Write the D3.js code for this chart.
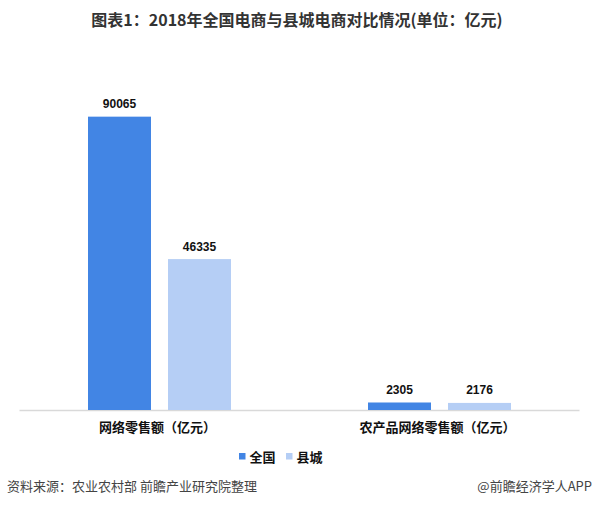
<!DOCTYPE html>
<html>
<head>
<meta charset="utf-8">
<script src="https://cdn.jsdelivr.net/npm/d3@7/dist/d3.min.js"></script>
<style>
  body { margin: 0; background: #fff; }
  svg { display: block; font-family: "Liberation Sans", "Noto Sans CJK SC", sans-serif; }
</style>
</head>
<body>
<svg id="chart" width="593" height="508"></svg>
<script>
var categories = ["网络零售额（亿元）", "农产品网络零售额（亿元）"];
var seriesNames = ["全国", "县城"];
var nationalValues = [90065, 2305];
var countyValues = [46335, 2176];

var colors = ["#4285e4", "#b5cef5"];

var svg = d3.select("#chart");
var baseY = 410;

// 外层分组
var x0 = d3.scaleBand()
    .domain(categories)
    .range([19.5, 579.5])
    .padding(0);

// 组内两根柱子
var x1 = d3.scaleBand()
    .domain(seriesNames)
    .range([-71.5, 71.5])
    .paddingInner(0.2125);

var y = d3.scaleLinear()
    .domain([0, 100000])
    .range([baseY, baseY - 325.7]);

var rows = categories.map(function(c, i) {
    return {
        cat: c,
        values: [
            { name: seriesNames[0], value: nationalValues[i] },
            { name: seriesNames[1], value: countyValues[i] }
        ]
    };
});

// title
svg.append("text")
    .attr("x", 297)
    .attr("y", 26)
    .attr("text-anchor", "middle")
    .style("font-family", "'Noto Sans CJK SC', sans-serif")
    .style("font-size", "16px")
    .style("font-weight", "bold")
    .style("fill", "#333")
    .text("图表1：2018年全国电商与县城电商对比情况(单位：亿元)");

// axis line
svg.append("line")
    .attr("x1", x0.range()[0])
    .attr("x2", x0.range()[1])
    .attr("y1", baseY + 0.5)
    .attr("y2", baseY + 0.5)
    .style("stroke", "#d9d9d9")
    .style("stroke-width", 1.5);

var groups = svg.selectAll(".group")
    .data(rows)
    .enter().append("g")
    .attr("class", "group")
    .attr("transform", function(d) {
        return "translate(" + (x0(d.cat) + x0.bandwidth() / 2) + ",0)";
    });

groups.selectAll("rect")
    .data(function(d) { return d.values; })
    .enter().append("rect")
    .attr("x", function(d) { return x1(d.name); })
    .attr("y", function(d) { return y(d.value); })
    .attr("width", x1.bandwidth())
    .attr("height", function(d) { return baseY - y(d.value); })
    .style("fill", function(d, i) { return colors[i]; });

groups.selectAll(".val")
    .data(function(d) { return d.values; })
    .enter().append("text")
    .attr("class", "val")
    .attr("x", function(d) { return x1(d.name) + x1.bandwidth() / 2; })
    .attr("y", function(d) { return y(d.value) - 8.5; })
    .attr("text-anchor", "middle")
    .style("font-size", "12px")
    .style("font-weight", "bold")
    .style("fill", "#111")
    .text(function(d) { return d.value; });

// category labels
groups.append("text")
    .attr("x", -2)
    .attr("y", 432)
    .attr("text-anchor", "middle")
    .style("font-family", "'Noto Sans CJK SC', sans-serif")
    .style("font-size", "13px")
    .style("font-weight", "bold")
    .style("fill", "#111")
    .text(function(d) { return d.cat; });

// legend
var legendX = 239, legendY = 453, spaceBetween = 47;
var legend = svg.append("g")
    .attr("transform", "translate(" + [legendX, legendY] + ")");

var li = legend.selectAll("g")
    .data(seriesNames)
    .enter().append("g")
    .attr("transform", function(d, i) { return "translate(" + (i * spaceBetween) + ",0)"; });

li.append("rect")
    .attr("width", 6.5)
    .attr("height", 6.5)
    .style("fill", function(d, i) { return colors[i]; });

li.append("text")
    .attr("x", 10.5)
    .attr("y", 8.5)
    .style("font-family", "'Noto Sans CJK SC', sans-serif")
    .style("font-size", "13px")
    .style("font-weight", "bold")
    .style("fill", "#111")
    .text(function(d) { return d; });

// footer
svg.append("text")
    .attr("x", 7)
    .attr("y", 491)
    .style("font-family", "'Noto Sans CJK SC', sans-serif")
    .style("font-size", "13px")
    .style("fill", "#444")
    .text("资料来源：农业农村部 前瞻产业研究院整理");

svg.append("text")
    .attr("x", 592)
    .attr("y", 491)
    .attr("text-anchor", "end")
    .style("font-family", "'Noto Sans CJK SC', sans-serif")
    .style("font-size", "13px")
    .style("fill", "#444")
    .text("@前瞻经济学人APP");
</script>
</body>
</html>
